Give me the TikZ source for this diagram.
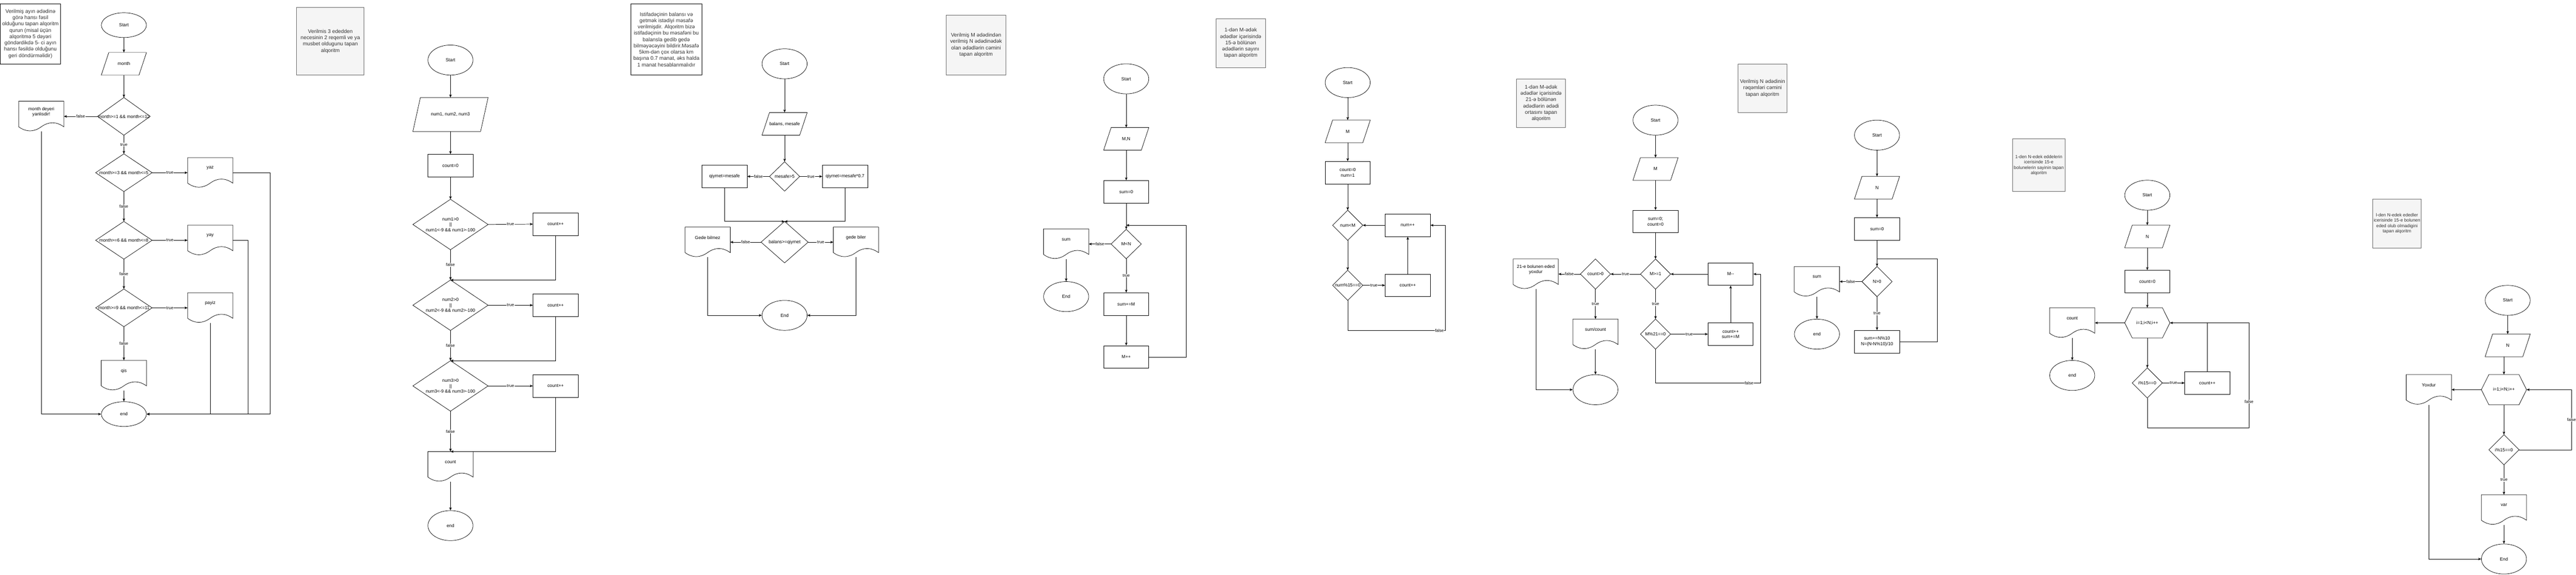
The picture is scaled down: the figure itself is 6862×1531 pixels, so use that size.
\documentclass[tikz,border=0pt]{standalone}
\usepackage{fontspec}
\setmainfont{Liberation Sans}
\usetikzlibrary{shapes.geometric,arrows.meta,calc}
\definecolor{notefill}{HTML}{F5F5F5}
\definecolor{noteline}{HTML}{666666}
\definecolor{notetext}{HTML}{333333}
% name, cx, cy, w, h, text
\newcommand{\fcell}[6]{\node[fcshape, ellipse, draw, line width=1pt, minimum width=#4pt, minimum height=#5pt] (#1) at (#2,#3) {#6};}
\newcommand{\fcbox}[6]{\node[fcshape, rectangle, draw, line width=1pt, minimum width=#4pt, minimum height=#5pt] (#1) at (#2,#3) {#6};}
\newcommand{\fcpara}[6]{\node[fcshape, rectangle, minimum width=#4pt, minimum height=#5pt] (#1) at (#2,#3) {};
  \node[fcshape] (#1t) at (#1.center) {#6};
  \draw[shp] ($(#1.north west)+(20,0)$) -- (#1.north east) -- ($(#1.south east)+(-20,0)$) -- (#1.south west) -- cycle;}
\newcommand{\fcdia}[6]{\node[fcshape, rectangle, minimum width=#4pt, minimum height=#5pt] (#1) at (#2,#3) {};
  \node[fcshape] (#1t) at (#1.center) {#6};
  \draw[shp] (#1.north) -- (#1.east) -- (#1.south) -- (#1.west) -- cycle;}
\newcommand{\fchex}[6]{\node[fcshape, rectangle, minimum width=#4pt, minimum height=#5pt] (#1) at (#2,#3) {};
  \node[fcshape] (#1t) at (#1.center) {#6};
  \draw[shp] (#1.west) -- ($(#1.north west)+(20,0)$) -- ($(#1.north east)+(-20,0)$) -- (#1.east) -- ($(#1.south east)+(-20,0)$) -- ($(#1.south west)+(20,0)$) -- cycle;}
\newcommand{\fcdoc}[6]{\node[fcshape, rectangle, minimum width=#4pt, minimum height=#5pt] (#1) at (#2,#3) {};
  \node[fcshape] (#1t) at ($(#1.north)+(0,{0.35*#5})$) {#6};
  \draw[shp] (#1.north west) -- (#1.north east) -- ($(#1.north east)+(0,{0.85*#5})$)
   .. controls ($(#1.north west)+({0.8333*#4},{0.67*#5})$) and ($(#1.north west)+({0.6667*#4},{0.67*#5})$) .. ($(#1.north west)+({0.5*#4},{0.85*#5})$)
   .. controls ($(#1.north west)+({0.3333*#4},{1.03*#5})$) and ($(#1.north west)+({0.1667*#4},{1.03*#5})$) .. ($(#1.north west)+(0,{0.85*#5})$) -- cycle;}
% name, cx, cy, w, h, style, font, text
\newcommand{\fcnote}[8]{\node[#6, inner sep=2pt, align=center, minimum width=#4pt, minimum height=#5pt, font={#7}] (#1) at (#2,#3) {#8};}

\begin{document}
\begin{tikzpicture}[x=1pt,y=-1pt,
  fcshape/.style={inner sep=0pt, align=center, font=\fontsize{12}{14.4}\selectfont},
  shp/.style={line width=1pt, draw=black},
  arr/.style={line width=1pt, draw=black, -{Stealth[length=8pt,width=6.5pt,inset=2pt]}},
  lnk/.style={line width=1pt, draw=black},
  lbl/.style={fill=white, inner sep=1pt, font=\fontsize{11}{13}\selectfont},
  graynote/.style={draw=noteline, fill=notefill, text=notetext, line width=1pt},
  whitenote/.style={draw=black, fill=white, text=notetext, line width=1pt},
]
\useasboundingbox[fill=white] (0,0) rectangle (6862,1531);

%================ FC1 =================
\fcnote{n1}{81}{90}{160}{160}{whitenote}{\fontsize{14}{16.8}\selectfont}{Verilmiş ayın ədədinə\\görə hansı fəsil\\olduğunu tapan alqoritm\\qurun (misal üçün\\alqoritmə 5 dəyəri\\göndərdikdə 5- ci ayın\\hansı fəsildə olduğunu\\geri döndürməlidir)}
\fcell{s1}{330}{67}{120}{66}{Start}
\fcpara{in1}{330}{170}{120}{60}{month}
\fcdia{d1}{330}{310}{140}{100}{month>=1 \&\& month<=12}
\fcdoc{err1}{110}{310}{120}{80}{month deyeri\\yanlisdir!}
\fcdia{d2}{330}{460}{150}{100}{month>=3 \&\& month<=5}
\fcdoc{yaz1}{560}{460}{120}{80}{yaz}
\fcdia{d3}{330}{640}{150}{100}{month>=6 \&\& month<=8}
\fcdoc{yay1}{560}{640}{120}{80}{yay}
\fcdia{d4}{330}{820}{150}{100}{month>=9 \&\& month<=11}
\fcdoc{pay1}{560}{820}{120}{80}{payiz}
\fcdoc{qis1}{330}{1000}{120}{80}{qis}
\fcell{e1}{330}{1103}{120}{66}{end}
\draw[arr] (s1) -- (in1);
\draw[arr] (in1) -- (d1.north);
\draw[arr] (d1.west) -- node[lbl]{false} (err1.east);
\draw[arr] (d1.south) -- node[lbl]{true} (d2.north);
\draw[arr] (d2.east) -- node[lbl]{true} (yaz1.west);
\draw[arr] (d2.south) -- node[lbl]{false} (d3.north);
\draw[arr] (d3.east) -- node[lbl]{true} (yay1.west);
\draw[arr] (d3.south) -- node[lbl]{false} (d4.north);
\draw[arr] (d4.east) -- node[lbl]{true} (pay1.west);
\draw[arr] (d4.south) -- node[lbl]{false} (qis1.north);
\draw[arr] (qis1.south) -- (e1);
\draw[arr] (err1.south) |- (e1.west);
\coordinate (k1a) at (720,460);
\coordinate (k1b) at (660,640);
\draw[arr] (yaz1.east) -- (k1a) |- (e1.east);
\draw[arr] (yay1.east) -- (k1b) |- (e1.east);
\draw[arr] (pay1.south) |- (e1.east);

%================ FC2 =================
\fcnote{n2}{880}{110}{180}{180}{graynote}{\fontsize{14}{16.8}\selectfont}{Verilmis 3 ededden\\necesinin 2 reqemli ve ya\\musbet oldugunu tapan\\alqoritm}
\fcell{s2}{1200}{160}{120}{80}{Start}
\fcpara{in2}{1200}{305}{200}{90}{num1, num2, num3}
\fcbox{c2}{1200}{441}{120}{60}{count=0}
\fcdia{q1}{1200}{598}{200}{134}{num1>0\\||\\num1<-9 \&\& num1>-100}
\fcdia{q2}{1200}{813}{200}{134}{num2>0\\||\\num2<-9 \&\& num2>-100}
\fcdia{q3}{1200}{1028}{200}{134}{num3>0\\||\\num3<-9 \&\& num3>-100}
\fcbox{p1}{1480}{597}{120}{60}{count++}
\fcbox{p2}{1480}{813}{120}{60}{count++}
\fcbox{p3}{1480}{1028}{120}{60}{count++}
\fcdoc{cd2}{1200}{1243}{120}{80}{count}
\fcell{e2}{1200}{1400}{120}{80}{end}
\draw[arr] (s2) -- (in2);
\draw[arr] (in2) -- (c2);
\draw[arr] (c2) -- (q1.north);
\draw[arr] (q1.east) -- node[lbl]{true} (p1.west);
\draw[arr] (q2.east) -- node[lbl]{true} (p2.west);
\draw[arr] (q3.east) -- node[lbl]{true} (p3.west);
\draw[arr] (q1.south) -- node[lbl]{false} (q2.north);
\draw[arr] (q2.south) -- node[lbl]{false} (q3.north);
\draw[arr] (q3.south) -- node[lbl]{false} (cd2.north);
\draw[arr] (p1.south) |- (q2.north);
\draw[arr] (p2.south) |- (q3.north);
\draw[arr] (p3.south) |- (cd2.north);
\draw[arr] (cd2.south) -- (e2);

%================ FC3 =================
\fcnote{n3}{1775}{105}{190}{190}{whitenote}{\fontsize{14}{16.8}\selectfont}{Istifadəçinin balansı və\\getmək istədiyi məsafə\\verilmişdir. Alqoritm bizə\\istifadəçinin bu məsafəni bu\\balansla gedib gedə\\bilməyəcəyini bildirir.Məsafə\\5km-dən çox olarsa km\\başına 0.7 manat, əks halda\\1 manat hesablanmalıdır}
\fcell{s3}{2090}{170}{120}{80}{Start}
\fcpara{in3}{2090}{330}{120}{60}{balans, mesafe}
\fcdia{m3}{2090}{470}{80}{78}{mesafe>5}
\fcbox{qa3}{1930}{470}{120}{60}{qiymet=mesafe}
\fcbox{qb3}{2251}{470}{120}{60}{qiymet=mesafe*0.7}
\fcdia{b3}{2090}{645}{125}{110}{balans>=qiymet}
\fcdoc{gn3}{1885}{645}{120}{80}{Gede bilmez}
\fcdoc{gy3}{2280}{645}{120}{80}{gede biler}
\fcell{e3}{2090}{840}{120}{80}{End}
\draw[arr] (s3) -- (in3);
\draw[arr] (in3) -- (m3.north);
\draw[arr] (m3.west) -- node[lbl]{false} (qa3.east);
\draw[arr] (m3.east) -- node[lbl]{true} (qb3.west);
\draw[arr] (qa3.south) |- (b3.north);
\draw[arr] (qb3.south) |- (b3.north);
\draw[arr] (b3.west) -- node[lbl]{false} (gn3.east);
\draw[arr] (b3.east) -- node[lbl]{true} (gy3.west);
\draw[arr] (gn3.south) |- (e3.west);
\draw[arr] (gy3.south) |- (e3.east);

%================ FC4 =================
\fcnote{n4}{2600}{120}{160}{160}{graynote}{\fontsize{14}{16.8}\selectfont}{Verilmiş M ədədindən\\verilmiş N ədədinədək\\olan ədədlərin cəmini\\tapan alqoritm}
\fcell{s4}{3000}{210}{120}{80}{Start}
\fcpara{in4}{3000}{370}{120}{60}{M,N}
\fcbox{z4}{3000}{511}{120}{60}{sum=0}
\fcdia{mn4}{3000}{650}{80}{78}{M<N}
\fcdoc{sd4}{2840}{650}{120}{80}{sum}
\fcell{e4}{2840}{790}{120}{80}{End}
\fcbox{sm4}{3000}{810}{120}{60}{sum+=M}
\fcbox{mp4}{3000}{951}{120}{60}{M++}
\draw[arr] (s4) -- (in4);
\draw[arr] (in4) -- (z4);
\draw[arr] (z4) -- (mn4.north);
\draw[arr] (mn4.west) -- node[lbl]{false} (sd4.east);
\draw[arr] (sd4.south) -- (e4);
\draw[arr] (mn4.south) -- node[lbl]{true} (sm4.north);
\draw[arr] (sm4) -- (mp4);
\coordinate (j4) at (3000,600);
\coordinate (k4) at (3160,951);
\draw[arr] (mp4.east) -- (k4) |- (j4);

%================ FC5 =================
\fcnote{n5}{3305}{115}{131}{131}{graynote}{\fontsize{14}{16.8}\selectfont}{1-dən M-ədək\\ədədlər içərisində\\15-ə bölünən\\ədədlərin sayını\\tapan alqoritm}
\fcell{s5}{3590}{220}{120}{80}{Start}
\fcpara{in5}{3590}{350}{120}{60}{M}
\fcbox{i5}{3590}{460}{120}{60}{count=0\\num=1}
\fcdia{lt5}{3590}{600}{80}{80}{num<M}
\fcbox{np5}{3750}{600}{120}{60}{num++}
\fcdia{md5}{3590}{760}{80}{80}{num\%15==0}
\fcbox{cp5}{3750}{760}{120}{60}{count++}
\draw[arr] (s5) -- (in5);
\draw[arr] (in5) -- (i5);
\draw[arr] (i5) -- (lt5.north);
\draw[arr] (lt5.south) -- (md5.north);
\draw[arr] (md5.east) -- node[lbl]{true} (cp5.west);
\draw[arr] (cp5.north) -- (np5.south);
\draw[arr] (np5.west) -- (lt5.east);
\coordinate (k5a) at (3590,880);
\coordinate (k5b) at (3850,880);
\draw[arr] (md5.south) -- (k5a) -- node[lbl,pos=0.94]{false} (k5b) |- (np5.east);

%================ FC6 =================
\fcnote{n6}{4105}{275}{130}{130}{graynote}{\fontsize{14}{16.8}\selectfont}{1-dən M-ədək\\ədədlər içərisində\\21-ə bölünən\\ədədlərin ədədi\\ortasını tapan\\alqoritm}
\fcell{s6}{4410}{320}{120}{80}{Start}
\fcpara{in6}{4410}{450}{120}{60}{M}
\fcbox{i6}{4410}{590}{120}{60}{sum=0;\\count=0}
\fcdia{ge6}{4410}{730}{80}{80}{M>=1}
\fcdia{cg6}{4250}{730}{80}{80}{count>0}
\fcdoc{no6}{4091}{730}{120}{80}{21-e bolunen eded\\yoxdur}
\fcbox{mm6}{4610}{730}{120}{60}{M-{}-}
\fcdia{md6}{4410}{890}{80}{80}{M\%21==0}
\fcbox{cs6}{4610}{890}{120}{60}{count++\\sum+=M}
\fcdoc{sc6}{4250}{890}{120}{80}{sum/count}
\fcell{e6}{4250}{1038}{120}{80}{}
\draw[arr] (s6) -- (in6);
\draw[arr] (in6) -- (i6);
\draw[arr] (i6) -- (ge6.north);
\draw[arr] (ge6.west) -- node[lbl]{true} (cg6.east);
\draw[arr] (cg6.west) -- node[lbl]{false} (no6.east);
\draw[arr] (cg6.south) -- node[lbl]{true} (sc6.north);
\draw[arr] (sc6.south) -- (e6);
\draw[arr] (ge6.south) -- node[lbl]{true} (md6.north);
\draw[arr] (md6.east) -- node[lbl]{true} (cs6.west);
\draw[arr] (cs6.north) -- (mm6.south);
\draw[arr] (mm6.west) -- (ge6.east);
\draw[arr] (no6.south) |- (e6.west);
\coordinate (k6a) at (4410,1020);
\coordinate (k6b) at (4690,1020);
\draw[arr] (md6.south) -- (k6a) -- node[lbl,pos=0.89]{false} (k6b) |- (mm6.east);

%================ FC7 =================
\fcnote{n7}{4695}{235}{130}{130}{graynote}{\fontsize{14}{16.8}\selectfont}{Verilmiş N ədədinin\\rəqəmləri cəmini\\tapan alqoritm}
\fcell{s7}{5000}{360}{120}{80}{Start}
\fcpara{in7}{5000}{500}{120}{60}{N}
\fcbox{z7}{5000}{610}{120}{60}{sum=0}
\fcdia{gt7}{5000}{750}{80}{80}{N>0}
\fcdoc{sd7}{4840}{750}{120}{80}{sum}
\fcell{e7}{4840}{890}{120}{80}{end}
\fcbox{up7}{5000}{910}{120}{60}{sum+=N\%10\\N=(N-N\%10)/10}
\draw[arr] (s7) -- (in7);
\draw[arr] (in7) -- (z7);
\draw[arr] (z7) -- (gt7.north);
\draw[arr] (gt7.west) -- node[lbl]{false} (sd7.east);
\draw[arr] (sd7.south) -- (e7);
\draw[arr] (gt7.south) -- node[lbl]{true} (up7.north);
\coordinate (k7a) at (5160,910);
\coordinate (j7) at (5000,690);
\draw[lnk] (up7.east) -- (k7a) |- (j7);

%================ FC8 =================
\fcnote{n8}{5431}{440}{140}{140}{graynote}{\fontsize{12}{14.4}\selectfont}{1-den N-edek eddelerin\\icerisinde 15-e\\bolunelerin sayinin tapan\\alqoritm}
\fcell{s8}{5720}{520}{120}{80}{Start}
\fcpara{in8}{5720}{630}{120}{60}{N}
\fcbox{c8}{5720}{750}{120}{60}{count=0}
\fchex{hx8}{5720}{860}{120}{80}{i=1;i<N;i++}
\fcdoc{cd8}{5520}{860}{120}{80}{count}
\fcell{e8}{5520}{1000}{120}{80}{end}
\fcdia{md8}{5720}{1020}{80}{80}{i\%15==0}
\fcbox{cp8}{5880}{1020}{120}{60}{count++}
\draw[arr] (s8) -- (in8);
\draw[arr] (in8) -- (c8);
\draw[arr] (c8) -- (hx8.north);
\draw[arr] (hx8.west) -- (cd8.east);
\draw[arr] (cd8.south) -- (e8);
\draw[arr] (hx8.south) -- (md8.north);
\draw[arr] (md8.east) -- node[lbl]{true} (cp8.west);
\draw[lnk] (cp8.north) -- (cp8.north |- hx8.east);
\coordinate (k8a) at (5720,1140);
\coordinate (k8b) at (5991,1140);
\coordinate (k8c) at (5991,860);
\draw[arr] (md8.south) -- (k8a) -- (k8b) -- node[lbl,pos=0.25]{false} (k8c) -- (hx8.east);

%================ FC9 =================
\fcnote{n9}{6385}{595}{130}{130}{graynote}{\fontsize{12}{14.4}\selectfont}{l-den N-edek ededler\\icerisinde 15-e bolunen\\eded olub olmadigini\\tapan alqoritm}
\fcell{s9}{6680}{800}{120}{80}{Start}
\fcpara{in9}{6680}{920}{120}{60}{N}
\fchex{hx9}{6670}{1038}{120}{80}{i=1;i<N;i++}
\fcdoc{yx9}{6470}{1038}{120}{80}{Yoxdur}
\fcdia{md9}{6670}{1198}{80}{80}{i\%15==0}
\fcdoc{vr9}{6670}{1358}{120}{80}{var}
\fcell{e9}{6670}{1489}{120}{80}{End}
\draw[arr] (s9) -- (in9);
\draw[arr] (in9.south -| hx9.north) -- (hx9.north);
\draw[arr] (hx9.west) -- (yx9.east);
\draw[arr] (hx9.south) -- (md9.north);
\draw[arr] (md9.south) -- node[lbl]{true} (vr9.north);
\draw[arr] (vr9.south) -- (e9);
\draw[arr] (yx9.south) |- (e9.west);
\coordinate (k9a) at (6850,1198);
\coordinate (k9b) at (6850,1038);
\draw[arr] (md9.east) -- (k9a) -- node[lbl]{false} (k9b) -- (hx9.east);
\end{tikzpicture}
\end{document}
